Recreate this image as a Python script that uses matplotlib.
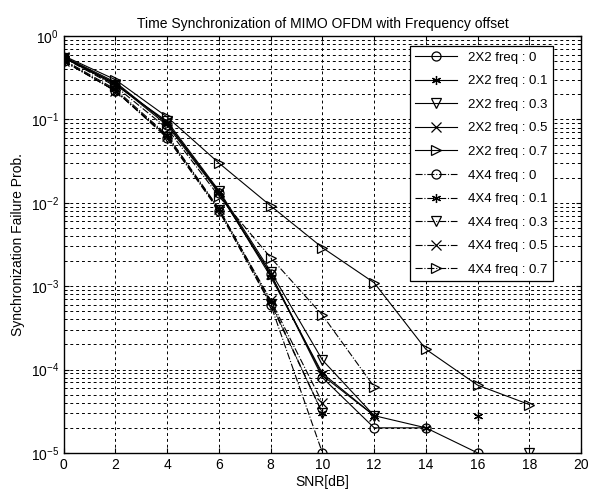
import numpy as np
import matplotlib
matplotlib.use("Agg")
import matplotlib.pyplot as plt

plt.rcParams['font.family'] = ['Liberation Sans', 'DejaVu Sans']
plt.rcParams['mathtext.fontset'] = 'custom'
plt.rcParams['mathtext.rm'] = 'Liberation Sans'

nan = np.nan
snr = [0, 2, 4, 6, 8, 10, 12, 14, 16, 18]

# 2x2 MIMO, frequency offsets 0 / 0.1 / 0.3 / 0.5 / 0.7
p2_f00 = [0.55, 0.27, 0.085, 0.0130, 0.0014, 8.0e-5, 2.0e-5, 2.0e-5, 1.0e-5, nan]
p2_f01 = [0.57, 0.28, 0.090, 0.0135, 0.0013, 9.0e-5, 2.8e-5, 2.0e-5, nan, nan]
p2_f03 = [0.55, 0.26, 0.095, 0.0140, 0.0015, 1.3e-4, 2.8e-5, nan, nan, 1.0e-5]
p2_f05 = [0.56, 0.27, 0.090, 0.0135, 0.0014, 8.5e-5, 2.8e-5, nan, nan, nan]
p2_f07 = [0.58, 0.30, 0.107, 0.0300, 0.0092, 2.9e-3, 1.1e-3, 1.75e-4, 6.5e-5, 3.8e-5]

# 4x4 MIMO
p4_f00 = [0.50, 0.22, 0.060, 0.0080, 6.0e-4, 1.0e-5, nan, nan, nan, nan]
p4_f01 = [0.52, 0.23, 0.065, 0.0085, 6.5e-4, 3.0e-5, nan, nan, 2.8e-5, nan]
p4_f03 = [0.50, 0.22, 0.062, 0.0082, 6.2e-4, 3.0e-5, nan, nan, nan, nan]
p4_f05 = [0.51, 0.22, 0.063, 0.0084, 6.8e-4, 4.0e-5, nan, nan, nan, nan]
p4_f07 = [0.55, 0.25, 0.078, 0.0120, 2.2e-3, 4.5e-4, 6.2e-5, nan, nan, nan]

offsets = ['0', '0.1', '0.3', '0.5', '0.7']
markers = ['o', (6, 2, 0), 'v', 'x', '>']   # matlab-ish o * v x >
series2 = [p2_f00, p2_f01, p2_f03, p2_f05, p2_f07]
series4 = [p4_f00, p4_f01, p4_f03, p4_f05, p4_f07]

fig = plt.figure(figsize=(5.9, 4.95), dpi=100)
ax = fig.add_axes([0.108, 0.085, 0.877, 0.842])

for vals, mk, off in zip(series2, markers, offsets):
    ax.semilogy(snr, vals, '-', color='k', lw=0.8, marker=mk, ms=6.5,
                mfc='none', mec='k', mew=0.9, label=f'2X2 freq : {off}')
for vals, mk, off in zip(series4, markers, offsets):
    ax.semilogy(snr, vals, '-.', color='k', lw=0.8, marker=mk, ms=6.5,
                mfc='none', mec='k', mew=0.9, label=f'4X4 freq : {off}')

ax.set_xlim(0, 20)
ax.set_ylim(1e-5, 1)
ax.set_xticks(range(0, 21, 2))
ax.grid(True, which='major', axis='x', color='k', ls=(0, (3, 3)), lw=0.7)
ax.grid(True, which='both', axis='y', color='k', ls=(0, (3, 3)), lw=0.7)
ax.tick_params(which='both', direction='in', top=True, right=True, labelsize=10)
for s in ax.spines.values():
    s.set_linewidth(1.0)

ax.set_title('Time Synchronization of MIMO OFDM with Frequency offset', fontsize=10)
ax.set_xlabel('SNR[dB]', fontsize=10, labelpad=2)
ax.set_ylabel('Synchronization Failure Prob.', fontsize=10)

leg = ax.legend(loc='upper left', bbox_to_anchor=(0.669, 0.976), fontsize=9.5,
                handlelength=3.2, labelspacing=0.86, fancybox=False,
                edgecolor='k', framealpha=1, borderaxespad=0)
leg.get_frame().set_linewidth(0.9)

fig.savefig('out.png', dpi=100)
